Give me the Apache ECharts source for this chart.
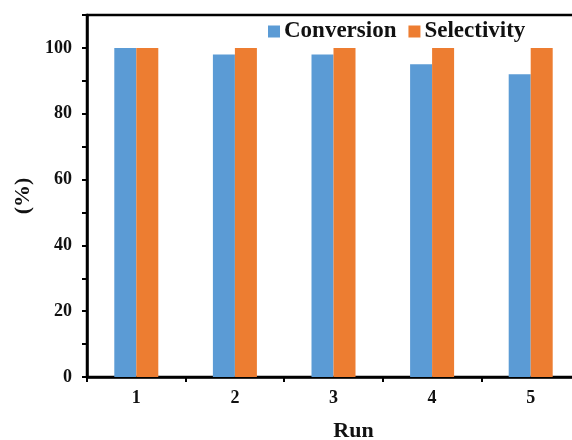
<!DOCTYPE html>
<html>
<head>
<meta charset="utf-8">
<script src="https://cdn.jsdelivr.net/npm/echarts@6/dist/echarts.min.js"></script>
<style>html,body{margin:0;padding:0;background:#fff;}#c{width:572px;height:440px;}</style>
</head>
<body>
<div id="c"></div>
<script>
var runs = ['1', '2', '3', '4', '5'];
var conversion = [100, 98, 98, 95, 92];
var selectivity = [100, 100, 100, 100, 100];
var yTickLabels = [0, 20, 40, 60, 80, 100];

var FONT = '"Liberation Serif", "Times New Roman", serif';
var chart = echarts.init(document.getElementById('c'));
chart.setOption({
  animation: false,
  backgroundColor: '#fff',
  textStyle: { fontFamily: FONT, fontWeight: 'bold', color: '#111' },
  legend: {
    left: 263, top: 15,
    itemWidth: 12, itemHeight: 12, itemGap: 12,
    icon: 'rect',
    textStyle: { fontFamily: FONT, fontWeight: 'bold', fontSize: 23, color: '#111', padding: [0, 0, 0, -1], letterSpacing: 0.3 },
    data: ['Conversion', 'Selectivity']
  },
  grid: {
    left: 87, top: 15, width: 493, bottom: 63,
    outerBoundsMode: 'none',
    containLabel: false,
    show: true, borderColor: '#000', borderWidth: 2.5, backgroundColor: 'transparent'
  },
  xAxis: {
    type: 'category',
    data: runs,
    name: 'Run',
    nameLocation: 'middle',
    nameGap: 43,
    nameTextStyle: { fontFamily: FONT, fontWeight: 'bold', fontSize: 22, color: '#111', padding: [0, 0, 0, 40] },
    axisLine: { lineStyle: { color: '#000', width: 2.5 } },
    axisTick: { show: true, length: 5, lineStyle: { color: '#000', width: 2 } },
    axisLabel: { fontFamily: FONT, fontWeight: 'bold', fontSize: 18, color: '#111', margin: 12 }
  },
  yAxis: {
    type: 'value',
    min: 0, max: 110, interval: 10,
    name: '(%)',
    nameLocation: 'middle',
    nameGap: 52,
    nameTextStyle: { fontFamily: FONT, fontWeight: 'bold', fontSize: 22, color: '#111' },
    axisLine: { show: true, lineStyle: { color: '#000', width: 2.5 } },
    axisTick: { show: true, length: 5, lineStyle: { color: '#000', width: 2 } },
    splitLine: { show: false },
    axisLabel: {
      fontFamily: FONT, fontWeight: 'bold', fontSize: 18, color: '#111', margin: 15,
      formatter: function (v) { return yTickLabels.indexOf(v) >= 0 ? String(v) : ''; }
    }
  },
  series: [
    { name: 'Conversion', type: 'bar', data: conversion, barWidth: 22, barGap: '0%', itemStyle: { color: '#5B9BD5' } },
    { name: 'Selectivity', type: 'bar', data: selectivity, barWidth: 22, barGap: '0%', itemStyle: { color: '#ED7D31' } }
  ]
});
</script>
</body>
</html>
